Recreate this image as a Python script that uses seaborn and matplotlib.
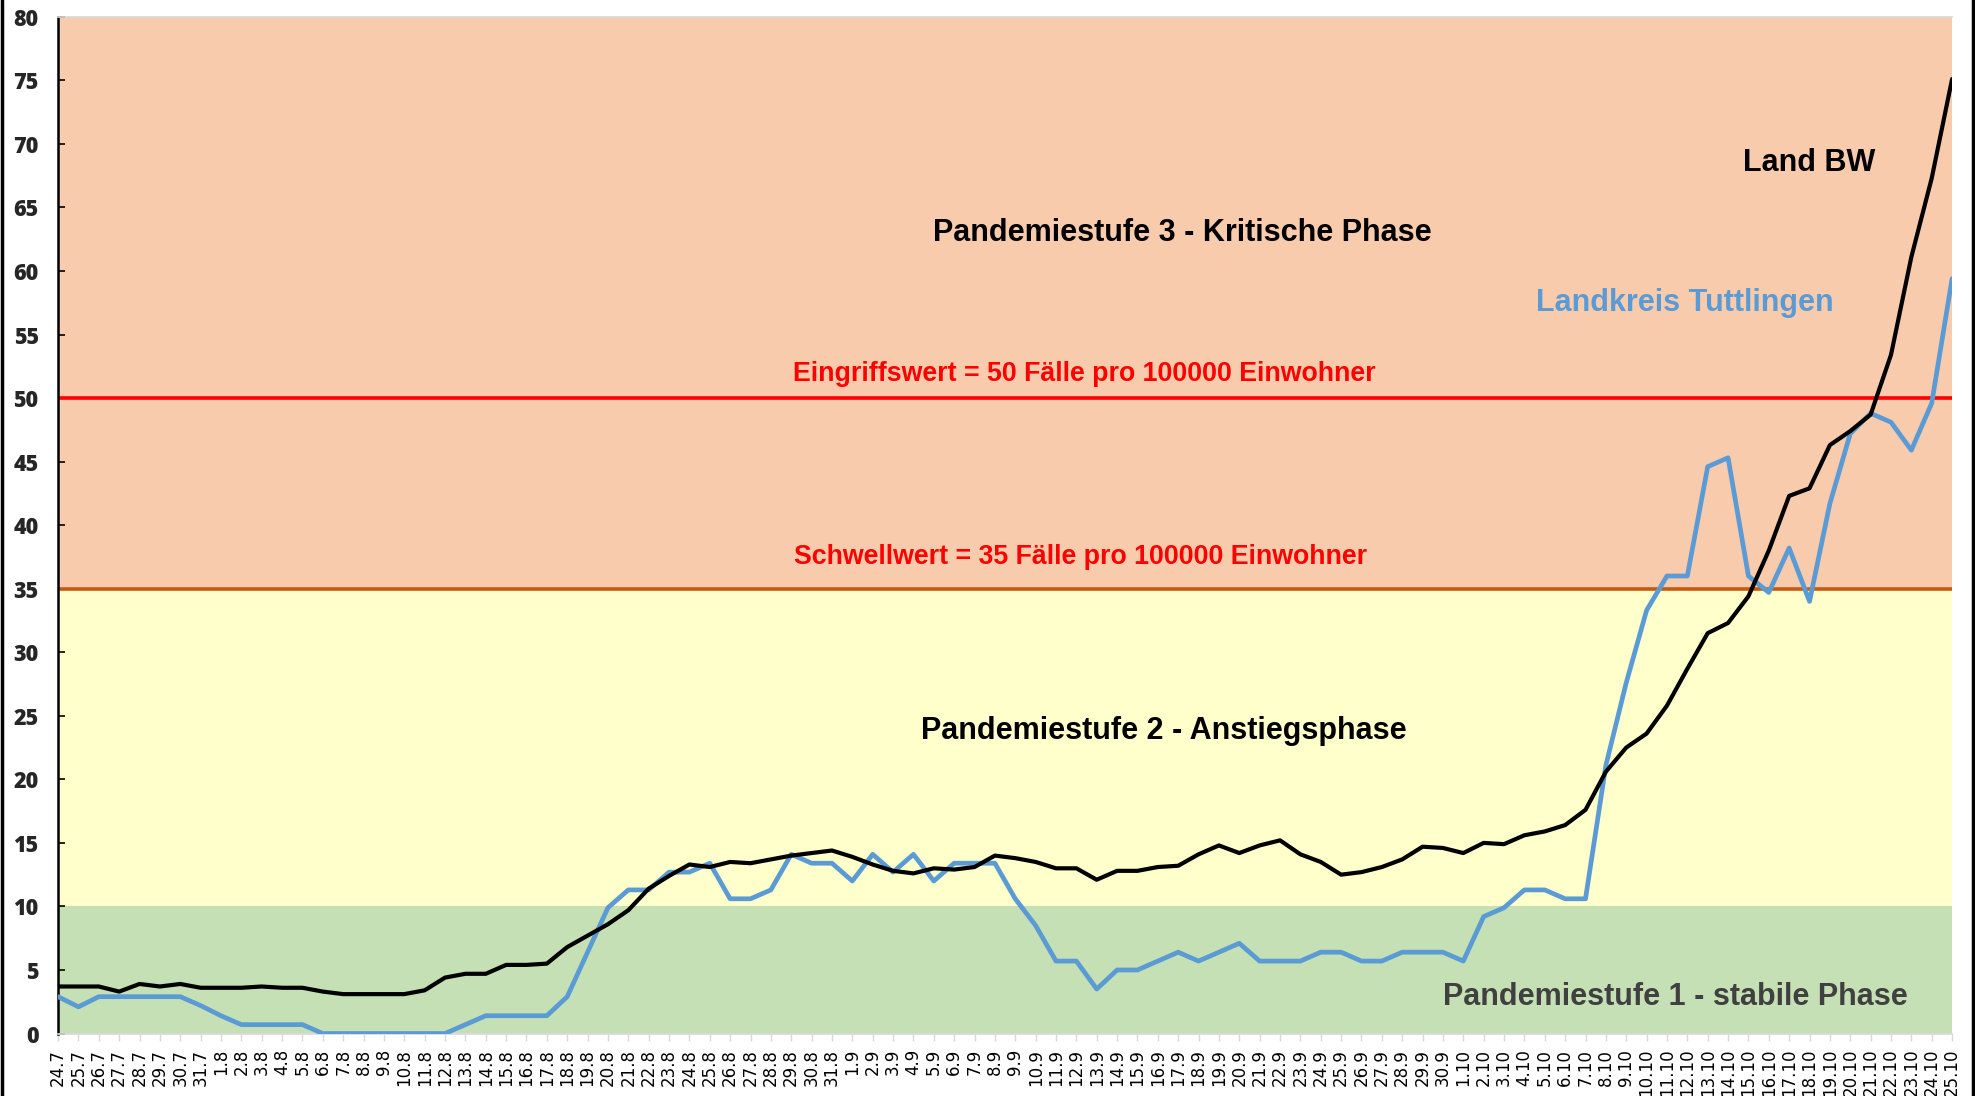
import pandas as pd
import matplotlib
matplotlib.use("Agg")
import matplotlib.pyplot as plt
import seaborn as sns
from matplotlib.lines import Line2D

# 7-Tage-Inzidenz pro 100000 Einwohner, 24.7. - 25.10.
days = pd.date_range("2020-07-24", "2020-10-25", freq="D")
date_labels = [f"{d.day}.{d.month}" for d in days]

land_bw = [3.7, 3.7, 3.7, 3.3, 3.9, 3.7, 3.9, 3.6, 3.6, 3.6,
           3.7, 3.6, 3.6, 3.3, 3.1, 3.1, 3.1, 3.1, 3.4, 4.4,
           4.7, 4.7, 5.4, 5.4, 5.5, 6.8, 7.7, 8.6, 9.7, 11.4,
           12.4, 13.3, 13.1, 13.5, 13.4, 13.7, 14.0, 14.2, 14.4, 13.9,
           13.3, 12.8, 12.6, 13.0, 12.9, 13.1, 14.0, 13.8, 13.5, 13.0,
           13.0, 12.1, 12.8, 12.8, 13.1, 13.2, 14.1, 14.8, 14.2, 14.8,
           15.2, 14.1, 13.5, 12.5, 12.7, 13.1, 13.7, 14.7, 14.6, 14.2,
           15.0, 14.9, 15.6, 15.9, 16.4, 17.6, 20.6, 22.5, 23.6, 25.8,
           28.7, 31.5, 32.3, 34.4, 38.0, 42.3, 42.9, 46.3, 47.4, 48.7,
           53.4, 61.1, 67.3, 75.1]

tuttlingen = [2.9, 2.1, 2.9, 2.9, 2.9, 2.9, 2.9, 2.2, 1.4, 0.7,
              0.7, 0.7, 0.7, 0.0, 0.0, 0.0, 0.0, 0.0, 0.0, 0.0,
              0.7, 1.4, 1.4, 1.4, 1.4, 2.9, 6.4, 9.9, 11.3, 11.3,
              12.7, 12.7, 13.4, 10.6, 10.6, 11.3, 14.1, 13.4, 13.4, 12.0,
              14.1, 12.7, 14.1, 12.0, 13.4, 13.4, 13.4, 10.6, 8.5, 5.7,
              5.7, 3.5, 5.0, 5.0, 5.7, 6.4, 5.7, 6.4, 7.1, 5.7,
              5.7, 5.7, 6.4, 6.4, 5.7, 5.7, 6.4, 6.4, 6.4, 5.7,
              9.2, 9.9, 11.3, 11.3, 10.6, 10.6, 21.1, 27.6, 33.3, 36.0,
              36.0, 44.6, 45.3, 36.0, 34.7, 38.2, 34.0, 41.7, 47.2, 48.8,
              48.1, 45.9, 49.6, 59.4]

df = pd.DataFrame({"pos": range(len(date_labels)),
                   "land_bw": land_bw,
                   "tuttlingen": tuttlingen})

sns.set_theme(style="white")
plt.rcParams["font.family"] = ["Liberation Sans", "DejaVu Sans"]

fig = plt.figure(figsize=(19.75, 10.96), dpi=100)
ax = fig.add_axes([0.0294, 0.0570, 0.9590, 0.9277])

# Pandemiestufen als Hintergrund
ax.axhspan(0, 10, color="#C5E0B4", zorder=0, lw=0)
ax.axhspan(10, 35, color="#FFFFCC", zorder=0, lw=0)
ax.axhspan(35, 80, color="#F8CBAD", zorder=0, lw=0)
ax.axhline(50, color="#FF0000", lw=2.6, zorder=1)
ax.axhline(35, color="#C55A11", lw=2.6, zorder=1)

sns.lineplot(data=df, x="pos", y="tuttlingen", color="#5B9BD5", linewidth=3.4, ax=ax, zorder=3)
sns.lineplot(data=df, x="pos", y="land_bw", color="black", linewidth=3.0, ax=ax, zorder=4)

ax.set_xlim(0, len(date_labels) - 1)
ax.set_ylim(0, 80)
ax.set_xlabel("")
ax.set_ylabel("")
ax.set_xticks(range(len(date_labels)))
ax.set_xticklabels(date_labels, rotation=90, fontsize=12, family="DejaVu Sans")
ax.set_yticks(range(0, 81, 5))
ax.set_yticklabels([str(v) for v in range(0, 81, 5)], fontsize=15.5,
                   fontweight="heavy", family=["Open Sans", "DejaVu Sans"])
ax.tick_params(axis="y", left=True, direction="in", length=5, width=1.2,
               color="black", pad=14)
ax.tick_params(axis="x", bottom=True, direction="out", length=5, width=1,
               color="#D9D9D9", pad=6, labelcolor="black")

ax.spines["left"].set_color("black")
ax.spines["left"].set_linewidth(1.8)
ax.spines["bottom"].set_color("#D9D9D9")
ax.spines["top"].set_color("#D9D9D9")
ax.spines["right"].set_visible(False)

txt = dict(fontweight="bold", ha="center", va="center", zorder=5)
ax.text(55.2, 63.0, "Pandemiestufe 3 - Kritische Phase", fontsize=22, color="black", **txt)
ax.text(50.4, 51.9, "Eingriffswert = 50 Fälle pro 100000 Einwohner", fontsize=19.3, color="#FF0000", **txt)
ax.text(50.2, 37.5, "Schwellwert = 35 Fälle pro 100000 Einwohner", fontsize=19.3, color="#FF0000", **txt)
ax.text(54.3, 23.8, "Pandemiestufe 2 - Anstiegsphase", fontsize=22, color="black", **txt)
ax.text(79.4, 2.9, "Pandemiestufe 1 - stabile Phase", fontsize=22, color="#404040", **txt)
ax.text(86.0, 68.5, "Land BW", fontsize=22, color="black", **txt)
ax.text(79.9, 57.5, "Landkreis Tuttlingen", fontsize=22, color="#5B9BD5", **txt)

# Rahmen links und rechts
fig.add_artist(Line2D([0.0008, 0.0008], [0, 1], color="black", lw=2.5, transform=fig.transFigure))
fig.add_artist(Line2D([0.9992, 0.9992], [0, 1], color="black", lw=2.5, transform=fig.transFigure))

fig.savefig("out.png", dpi=100)
